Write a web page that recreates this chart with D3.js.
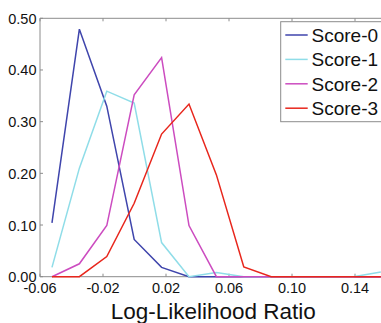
<!DOCTYPE html>
<html><head><meta charset="utf-8">
<script src="https://cdn.jsdelivr.net/npm/d3@7"></script>
<style>body{margin:0;background:#fff}svg{display:block}</style>
</head><body>
<svg id="c" width="381" height="323"></svg>
<script>
const bins = [-0.0524,-0.0350,-0.0176,-0.0002,0.0172,0.0346,0.0520,0.0694,0.0868,0.1042,0.1216,0.1390,0.1564];
const score0 = [0.104,0.479,0.330,0.072,0.018,0.0,0.0,0.0,0.0,0.0,0.0,0.0,0.0];
const score1 = [0.018,0.210,0.359,0.336,0.066,0.0,0.008,0.0,0.0,0.0,0.0,0.0,0.009];
const score2 = [0.0,0.025,0.099,0.352,0.424,0.099,0.0,0.0,0.0,0.0,0.0,0.0,0.0];
const score3 = [0.0,0.0,0.039,0.142,0.276,0.334,0.197,0.019,0.0,0.0,0.0,0.0,0.0];
const seriesNames = ["Score-0","Score-1","Score-2","Score-3"];
const seriesColors = ["#3f45ac","#8fdde8","#cc4cc0","#e8261c"];
const xTicks = [-0.06,-0.02,0.02,0.06,0.10,0.14];
const yTicks = [0,0.1,0.2,0.3,0.4,0.5];

const svg = d3.select("#c");
const L=40, T=18.3, B=276.7, R=40+0.22*1575;
const x = d3.scaleLinear().domain([-0.06,0.16]).range([L,R]);
const y = d3.scaleLinear().domain([0,0.5]).range([B,T]);
const font = "'Liberation Sans', Arial, Helvetica, sans-serif";
const grey = "#8c8c8c";

// frame
svg.append("path").attr("d",`M${R},${T}H${L}V${B}H${R}`).attr("fill","none").attr("stroke",grey).attr("stroke-width",1);
// ticks inward
xTicks.forEach(t=>{
  svg.append("line").attr("x1",x(t)).attr("x2",x(t)).attr("y1",B).attr("y2",B-3).attr("stroke",grey);
  svg.append("line").attr("x1",x(t)).attr("x2",x(t)).attr("y1",T).attr("y2",T+3).attr("stroke",grey);
});
yTicks.forEach(t=>{
  svg.append("line").attr("x1",L).attr("x2",L+3).attr("y1",y(t)).attr("y2",y(t)).attr("stroke",grey);
});
// tick labels
svg.append("g").selectAll("text").data(xTicks).join("text")
  .attr("x",d=>x(d)).attr("y",292.7).attr("text-anchor","middle")
  .attr("font-family",font).attr("font-size",14.5).attr("fill","#111")
  .text(d=>d3.format(".2f")(d).replace("−","-"));
svg.append("g").selectAll("text").data(yTicks).join("text")
  .attr("x",36.5).attr("y",d=>y(d)+5.5).attr("text-anchor","end")
  .attr("font-family",font).attr("font-size",14.5).attr("fill","#111")
  .text(d=>d3.format(".2f")(d));
svg.append("text").attr("x",(L+R)/2).attr("y",318.5).attr("text-anchor","middle")
  .attr("font-family",font).attr("font-size",22.5).attr("fill","#111").text("Log-Likelihood Ratio");

// lines
const allSeries=[score0,score1,score2,score3];
const line = d3.line().x((d,i)=>x(bins[i])).y(d=>y(d));
allSeries.forEach((s,k)=>{
  svg.append("path").datum(s).attr("d",line).attr("fill","none")
    .attr("stroke",seriesColors[k]).attr("stroke-width",1.5).attr("stroke-linejoin","miter");
});

// legend
const lg = svg.append("g");
lg.append("rect").attr("x",280.7).attr("y",21.7).attr("width",110).attr("height",100)
  .attr("fill","#fff").attr("stroke",grey).attr("stroke-width",1);
seriesNames.forEach((n,i)=>{
  const yy = 35 + i*24.4;
  lg.append("line").attr("x1",285.3).attr("x2",307.7).attr("y1",yy).attr("y2",yy)
    .attr("stroke",seriesColors[i]).attr("stroke-width",1.5);
  lg.append("text").attr("x",311.5).attr("y",yy+7).attr("font-family",font)
    .attr("font-size",19).attr("fill","#111").text(n);
});
</script>
</body></html>
